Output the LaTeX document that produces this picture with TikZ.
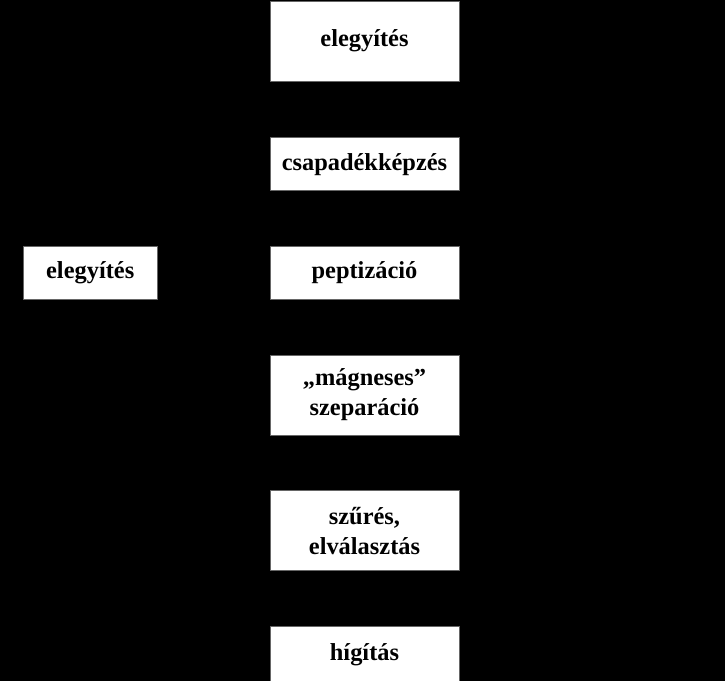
\documentclass[tikz,border=0pt]{standalone}
\usepackage{fontspec}
\setmainfont{Liberation Serif}
\usetikzlibrary{positioning}

\begin{document}
\begin{tikzpicture}[
  font=\fontsize{12.2}{15}\selectfont\bfseries,
  stage/.style={draw=black!60, line width=0.4pt, fill=white, align=center, inner sep=2pt, minimum width=94.5pt},
  tall/.style={stage, minimum height=40pt},
  flat/.style={stage, minimum height=26.5pt}
]
  \fill[black] (0,0) rectangle (362.5pt,-340.5pt);
  \useasboundingbox (0,0) rectangle (362.5pt,-340.5pt);

  \node[tall] (mix) at (182.25pt,-20.5pt) {elegyítés};
  \node[flat, below=28pt of mix] (prec) {csapadékképzés};
  \node[flat, below=27.4pt of prec] (pept) {peptizáció};
  \node[tall, below=27.4pt of pept] (magn) {„mágneses”\\szeparáció};
  \node[tall, below=27.5pt of magn] (filt) {szűrés,\\elválasztás};
  \node[stage, minimum height=28pt, below=27.5pt of filt] (dil) {hígítás};
  \node[flat, minimum width=67pt, left=56pt of pept] (mix2) {elegyítés};
\end{tikzpicture}
\end{document}
